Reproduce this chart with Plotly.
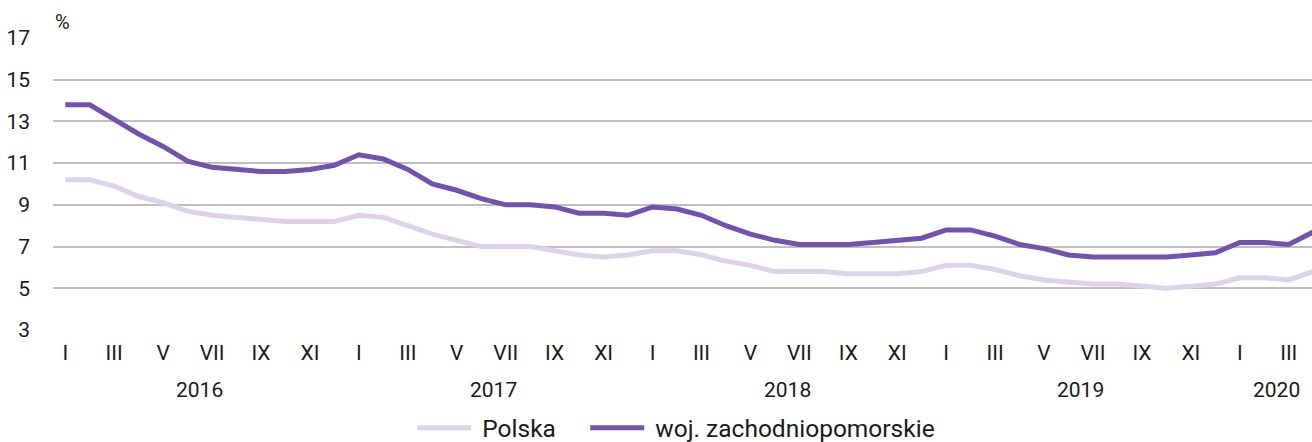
import plotly.graph_objects as go

months_roman = ["I", "II", "III", "IV", "V", "VI", "VII", "VIII", "IX", "X", "XI", "XII"]
years = ["2016", "2017", "2018", "2019", "2020"]
months_per_year = [12, 12, 12, 12, 4]

polska = [10.2, 10.2, 9.9, 9.4, 9.1, 8.7, 8.5, 8.4, 8.3, 8.2, 8.2, 8.2,
          8.5, 8.4, 8.0, 7.6, 7.3, 7.0, 7.0, 7.0, 6.8, 6.6, 6.5, 6.6,
          6.8, 6.8, 6.6, 6.3, 6.1, 5.8, 5.8, 5.8, 5.7, 5.7, 5.7, 5.8,
          6.1, 6.1, 5.9, 5.6, 5.4, 5.3, 5.2, 5.2, 5.1, 5.0, 5.1, 5.2,
          5.5, 5.5, 5.4, 5.8]
zachodniopomorskie = [13.8, 13.8, 13.1, 12.4, 11.8, 11.1, 10.8, 10.7, 10.6, 10.6, 10.7, 10.9,
                      11.4, 11.2, 10.7, 10.0, 9.7, 9.3, 9.0, 9.0, 8.9, 8.6, 8.6, 8.5,
                      8.9, 8.8, 8.5, 8.0, 7.6, 7.3, 7.1, 7.1, 7.1, 7.2, 7.3, 7.4,
                      7.8, 7.8, 7.5, 7.1, 6.9, 6.6, 6.5, 6.5, 6.5, 6.5, 6.6, 6.7,
                      7.2, 7.2, 7.1, 7.7]

series_names = ["Polska", "woj. zachodniopomorskie"]
y_ticks = [3, 5, 7, 9, 11, 13, 15, 17]

# build month index and labels
x_idx = list(range(len(polska)))
tickvals, ticktext = [], []
year_centers = []
start = 0
for y, n in zip(years, months_per_year):
    for m in range(n):
        if m % 2 == 0:
            tickvals.append(start + m)
            ticktext.append(months_roman[m])
    year_centers.append((start + (start + n - 1)) / 2)
    start += n

FONT = "Roboto, sans-serif"
TXT = "#1a1a1a"
NB = "\u00a0"

fig = go.Figure()
fig.add_trace(go.Scatter(x=x_idx, y=polska, mode="lines",
                         name=NB + series_names[0] + NB * 4,
                         line=dict(color="#DCD3EA", width=5)))
fig.add_trace(go.Scatter(x=x_idx, y=zachodniopomorskie, mode="lines",
                         name=NB + series_names[1],
                         line=dict(color="#7351AF", width=5)))

for yr, c in zip(years, year_centers):
    fig.add_annotation(x=c, y=0, xref="x", yref="paper", yshift=-60,
                       text=yr, showarrow=False, xanchor="center", yanchor="middle",
                       font=dict(family=FONT, size=21, color=TXT))

fig.add_annotation(x=0, y=1, xref="paper", yref="paper", xshift=9, yshift=16,
                   text="%", showarrow=False, xanchor="center", yanchor="middle",
                   font=dict(family=FONT, size=20, color=TXT))

fig.update_layout(
    width=1312, height=442,
    margin=dict(l=53, r=0, t=38, b=112, autoexpand=False),
    paper_bgcolor="white", plot_bgcolor="white",
    font=dict(family=FONT, size=21, color=TXT),
    showlegend=True,
    legend=dict(orientation="h", x=0.495, xanchor="center", y=-0.335, yanchor="middle",
                font=dict(family=FONT, size=24.5, color=TXT),
                itemwidth=54),
    xaxis=dict(range=[-0.5, 50.95], tickvals=tickvals, ticktext=ticktext,
               showgrid=False, zeroline=False, showline=False, ticks="",
               ticklabelstandoff=8,
               tickfont=dict(family=FONT, size=21, color=TXT)),
    yaxis=dict(range=[3, 17], tickvals=y_ticks, showgrid=True,
               gridcolor="#BFBFBF", gridwidth=2, zeroline=False, showline=False,
               ticks="", ticklabelstandoff=22,
               tickfont=dict(family=FONT, size=21, color=TXT)),
)

fig.write_html("out.html", config={"displayModeBar": False},
               post_script="document.body.style.margin='0';document.body.style.overflow='hidden';")
